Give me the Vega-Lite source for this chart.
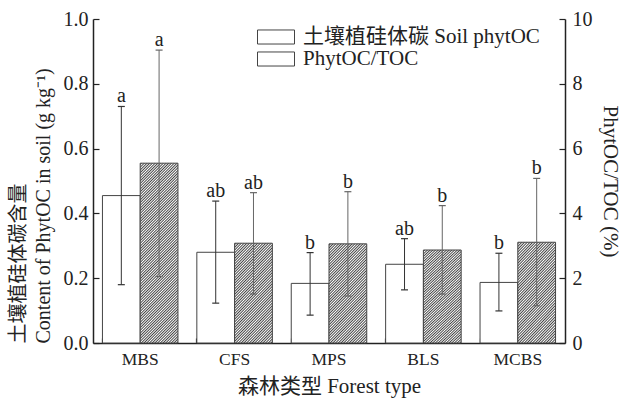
{
  "$schema": "https://vega.github.io/schema/vega-lite/v6.json",
  "width": 472,
  "height": 324,
  "autosize": {"type": "none"},
  "padding": {"left": 93, "top": 19, "right": 57, "bottom": 61},
  "config": {
    "view": {"stroke": null},
    "font": "Liberation Serif, Noto Sans CJK SC",
    "text": {"font": "Liberation Serif, Noto Sans CJK SC"}
  },
  "data": {
    "values": [
      {"forest": "MBS", "key": "soil", "series": "土壤植硅体碳 Soil phytOC", "value": 0.455, "lo": 0.18, "hi": 0.73, "letter": "a"},
      {"forest": "CFS", "key": "soil", "series": "土壤植硅体碳 Soil phytOC", "value": 0.28, "lo": 0.123, "hi": 0.438, "letter": "ab"},
      {"forest": "MPS", "key": "soil", "series": "土壤植硅体碳 Soil phytOC", "value": 0.184, "lo": 0.086, "hi": 0.279, "letter": "b"},
      {"forest": "BLS", "key": "soil", "series": "土壤植硅体碳 Soil phytOC", "value": 0.243, "lo": 0.164, "hi": 0.322, "letter": "ab"},
      {"forest": "MCBS", "key": "soil", "series": "土壤植硅体碳 Soil phytOC", "value": 0.187, "lo": 0.099, "hi": 0.277, "letter": "b"},
      {"forest": "MBS", "key": "ratio", "series": "PhytOC/TOC", "value": 5.55, "lo": 2.05, "hi": 9.04, "letter": "a"},
      {"forest": "CFS", "key": "ratio", "series": "PhytOC/TOC", "value": 3.08, "lo": 1.51, "hi": 4.64, "letter": "ab"},
      {"forest": "MPS", "key": "ratio", "series": "PhytOC/TOC", "value": 3.06, "lo": 1.45, "hi": 4.67, "letter": "b"},
      {"forest": "BLS", "key": "ratio", "series": "PhytOC/TOC", "value": 2.87, "lo": 1.51, "hi": 4.24, "letter": "b"},
      {"forest": "MCBS", "key": "ratio", "series": "PhytOC/TOC", "value": 3.11, "lo": 1.15, "hi": 5.08, "letter": "b"}
    ]
  },
  "encoding": {
    "x": {
      "field": "forest", "type": "nominal",
      "sort": ["MBS", "CFS", "MPS", "BLS", "MCBS"],
      "scale": {"paddingInner": 0.2, "paddingOuter": 0.1},
      "axis": {
        "title": "森林类型 Forest type", "labelAngle": 0, "bandPosition": 0,
        "tickSize": -5, "labelPadding": 12, "domainColor": "#222", "domainWidth": 1.5,
        "tickColor": "#222", "tickWidth": 1.2, "labelFontSize": 17.5, "titleFontSize": 21,
        "titlePadding": 8, "labelColor": "#222", "titleColor": "#222", "titleFontWeight": "normal", "grid": false
      }
    },
    "xOffset": {
      "field": "series", "type": "nominal",
      "scale": {"domain": ["土壤植硅体碳 Soil phytOC", "PhytOC/TOC"], "paddingInner": 0, "paddingOuter": 0}
    }
  },
  "layer": [
    {
      "transform": [{"filter": "datum.key === 'soil'"}],
      "layer": [
        {
          "mark": {"type": "bar", "fill": "#fff", "strokeWidth": 1},
          "encoding": {
            "y": {
              "field": "value", "type": "quantitative",
              "scale": {"domain": [0, 1], "nice": false},
              "axis": {
                "title": ["土壤植硅体碳含量", "Content of PhytOC in soil (g kg⁻¹)"],
                "values": [0, 0.1, 0.2, 0.3, 0.4, 0.5, 0.6, 0.7, 0.8, 0.9, 1],
                "labelExpr": "round(datum.value*10) % 2 === 0 ? format(datum.value, '.1f') : ''",
                "tickSize": -6, "labelPadding": 11, "grid": false,
                "domainColor": "#222", "domainWidth": 1.5, "tickColor": "#222", "tickWidth": 1.2,
                "labelFontSize": 20, "titleFontSize": 20, "titleFontWeight": "normal",
                "titleAnchor": "start", "titlePadding": 10, "titleLineHeight": 25,
                "labelColor": "#222", "titleColor": "#222"
              }
            },
            "stroke": {
              "field": "series", "type": "nominal",
              "scale": {"domain": ["土壤植硅体碳 Soil phytOC", "PhytOC/TOC"], "range": ["#444", "#444"]},
              "legend": {
                "orient": "none", "legendX": 164, "legendY": 7, "title": null,
                "symbolType": "M-1,-0.38H1V0.38H-1Z", "symbolSize": 1369, "symbolStrokeWidth": 1,
                "labelFontSize": 21, "labelFont": "Liberation Serif, Noto Sans CJK SC", "labelOffset": 8, "labelLimit": 400,
                "rowPadding": 0, "clipHeight": 22, "labelColor": "#222",
                "encode": {
                  "symbols": {
                    "fill": {
                      "condition": {"test": "datum.index === 1 || datum.value === 'PhytOC/TOC' || datum.label === 'PhytOC/TOC'", "value": {"gradient": "linear", "x1": 0, "y1": 0, "x2": 1.206, "y2": 0.456, "stops": [
                        {"offset": 0, "color": "#fff"}, {"offset": 0.025, "color": "#444"}, {"offset": 0.05, "color": "#fff"}, {"offset": 0.075, "color": "#444"},
                        {"offset": 0.1, "color": "#fff"}, {"offset": 0.125, "color": "#444"}, {"offset": 0.15, "color": "#fff"}, {"offset": 0.175, "color": "#444"},
                        {"offset": 0.2, "color": "#fff"}, {"offset": 0.225, "color": "#444"}, {"offset": 0.25, "color": "#fff"}, {"offset": 0.275, "color": "#444"},
                        {"offset": 0.3, "color": "#fff"}, {"offset": 0.325, "color": "#444"}, {"offset": 0.35, "color": "#fff"}, {"offset": 0.375, "color": "#444"},
                        {"offset": 0.4, "color": "#fff"}, {"offset": 0.425, "color": "#444"}, {"offset": 0.45, "color": "#fff"}, {"offset": 0.475, "color": "#444"},
                        {"offset": 0.5, "color": "#fff"}, {"offset": 0.525, "color": "#444"}, {"offset": 0.55, "color": "#fff"}, {"offset": 0.575, "color": "#444"},
                        {"offset": 0.6, "color": "#fff"}, {"offset": 0.625, "color": "#444"}, {"offset": 0.65, "color": "#fff"}, {"offset": 0.675, "color": "#444"},
                        {"offset": 0.7, "color": "#fff"}, {"offset": 0.725, "color": "#444"}, {"offset": 0.75, "color": "#fff"}, {"offset": 0.775, "color": "#444"},
                        {"offset": 0.8, "color": "#fff"}, {"offset": 0.825, "color": "#444"}, {"offset": 0.85, "color": "#fff"}, {"offset": 0.875, "color": "#444"},
                        {"offset": 0.9, "color": "#fff"}, {"offset": 0.925, "color": "#444"}, {"offset": 0.95, "color": "#fff"}, {"offset": 0.975, "color": "#444"},
                        {"offset": 1, "color": "#fff"}
                      ]}},
                      "value": "#fff"
                    }
                  }
                }
              }
            }
          }
        },
        {
          "mark": {"type": "rule", "color": "#333", "strokeWidth": 1},
          "encoding": {
            "y": {"field": "lo", "type": "quantitative", "scale": {"domain": [0, 1], "nice": false}},
            "y2": {"field": "hi"}
          }
        },
        {
          "mark": {"type": "point", "shape": "stroke", "size": 49, "filled": false, "color": "#333", "strokeWidth": 1.2, "opacity": 1},
          "encoding": {"y": {"field": "lo", "type": "quantitative", "scale": {"domain": [0, 1], "nice": false}}}
        },
        {
          "mark": {"type": "point", "shape": "stroke", "size": 49, "filled": false, "color": "#333", "strokeWidth": 1.2, "opacity": 1},
          "encoding": {"y": {"field": "hi", "type": "quantitative", "scale": {"domain": [0, 1], "nice": false}}}
        },
        {
          "mark": {"type": "text", "dy": -4, "baseline": "alphabetic", "fontSize": 20, "color": "#222", "font": "Liberation Serif"},
          "encoding": {
            "y": {"field": "hi", "type": "quantitative", "scale": {"domain": [0, 1], "nice": false}},
            "text": {"field": "letter"}
          }
        }
      ]
    },
    {
      "transform": [{"filter": "datum.key === 'ratio'"}],
      "layer": [
        {
          "mark": {"type": "bar", "strokeWidth": 1},
          "encoding": {
            "y": {
              "field": "value", "type": "quantitative",
              "scale": {"domain": [0, 10], "nice": false},
              "axis": {
                "orient": "right", "title": "PhytOC/TOC (%)",
                "values": [0, 1, 2, 3, 4, 5, 6, 7, 8, 9, 10],
                "labelExpr": "datum.value % 2 === 0 ? format(datum.value, 'd') : ''",
                "tickSize": -6, "labelPadding": 13, "grid": false,
                "domainColor": "#222", "domainWidth": 1.5, "tickColor": "#222", "tickWidth": 1.2,
                "labelFontSize": 20, "titleFontSize": 21, "titleFontWeight": "normal",
                "titlePadding": 7, "labelColor": "#222", "titleColor": "#222"
              }
            },
            "stroke": {
              "field": "series", "type": "nominal",
              "scale": {"domain": ["土壤植硅体碳 Soil phytOC", "PhytOC/TOC"], "range": ["#444", "#444"]}
            },
            "fill": {
              "condition": {
                "test": "datum.forest === 'MBS'",
                "value": {"gradient": "linear", "x1": 0, "y1": 0, "x2": 0.243, "y2": 1.159, "stops": [
                  {"offset": 0, "color": "#fff"}, {"offset": 0.00625, "color": "#444"}, {"offset": 0.0125, "color": "#fff"}, {"offset": 0.01875, "color": "#444"}, {"offset": 0.025, "color": "#fff"}, {"offset": 0.03125, "color": "#444"}, {"offset": 0.0375, "color": "#fff"}, {"offset": 0.04375, "color": "#444"},
                  {"offset": 0.05, "color": "#fff"}, {"offset": 0.05625, "color": "#444"}, {"offset": 0.0625, "color": "#fff"}, {"offset": 0.06875, "color": "#444"}, {"offset": 0.075, "color": "#fff"}, {"offset": 0.08125, "color": "#444"}, {"offset": 0.0875, "color": "#fff"}, {"offset": 0.09375, "color": "#444"},
                  {"offset": 0.1, "color": "#fff"}, {"offset": 0.10625, "color": "#444"}, {"offset": 0.1125, "color": "#fff"}, {"offset": 0.11875, "color": "#444"}, {"offset": 0.125, "color": "#fff"}, {"offset": 0.13125, "color": "#444"}, {"offset": 0.1375, "color": "#fff"}, {"offset": 0.14375, "color": "#444"},
                  {"offset": 0.15, "color": "#fff"}, {"offset": 0.15625, "color": "#444"}, {"offset": 0.1625, "color": "#fff"}, {"offset": 0.16875, "color": "#444"}, {"offset": 0.175, "color": "#fff"}, {"offset": 0.18125, "color": "#444"}, {"offset": 0.1875, "color": "#fff"}, {"offset": 0.19375, "color": "#444"},
                  {"offset": 0.2, "color": "#fff"}, {"offset": 0.20625, "color": "#444"}, {"offset": 0.2125, "color": "#fff"}, {"offset": 0.21875, "color": "#444"}, {"offset": 0.225, "color": "#fff"}, {"offset": 0.23125, "color": "#444"}, {"offset": 0.2375, "color": "#fff"}, {"offset": 0.24375, "color": "#444"},
                  {"offset": 0.25, "color": "#fff"}, {"offset": 0.25625, "color": "#444"}, {"offset": 0.2625, "color": "#fff"}, {"offset": 0.26875, "color": "#444"}, {"offset": 0.275, "color": "#fff"}, {"offset": 0.28125, "color": "#444"}, {"offset": 0.2875, "color": "#fff"}, {"offset": 0.29375, "color": "#444"},
                  {"offset": 0.3, "color": "#fff"}, {"offset": 0.30625, "color": "#444"}, {"offset": 0.3125, "color": "#fff"}, {"offset": 0.31875, "color": "#444"}, {"offset": 0.325, "color": "#fff"}, {"offset": 0.33125, "color": "#444"}, {"offset": 0.3375, "color": "#fff"}, {"offset": 0.34375, "color": "#444"},
                  {"offset": 0.35, "color": "#fff"}, {"offset": 0.35625, "color": "#444"}, {"offset": 0.3625, "color": "#fff"}, {"offset": 0.36875, "color": "#444"}, {"offset": 0.375, "color": "#fff"}, {"offset": 0.38125, "color": "#444"}, {"offset": 0.3875, "color": "#fff"}, {"offset": 0.39375, "color": "#444"},
                  {"offset": 0.4, "color": "#fff"}, {"offset": 0.40625, "color": "#444"}, {"offset": 0.4125, "color": "#fff"}, {"offset": 0.41875, "color": "#444"}, {"offset": 0.425, "color": "#fff"}, {"offset": 0.43125, "color": "#444"}, {"offset": 0.4375, "color": "#fff"}, {"offset": 0.44375, "color": "#444"},
                  {"offset": 0.45, "color": "#fff"}, {"offset": 0.45625, "color": "#444"}, {"offset": 0.4625, "color": "#fff"}, {"offset": 0.46875, "color": "#444"}, {"offset": 0.475, "color": "#fff"}, {"offset": 0.48125, "color": "#444"}, {"offset": 0.4875, "color": "#fff"}, {"offset": 0.49375, "color": "#444"},
                  {"offset": 0.5, "color": "#fff"}, {"offset": 0.50625, "color": "#444"}, {"offset": 0.5125, "color": "#fff"}, {"offset": 0.51875, "color": "#444"}, {"offset": 0.525, "color": "#fff"}, {"offset": 0.53125, "color": "#444"}, {"offset": 0.5375, "color": "#fff"}, {"offset": 0.54375, "color": "#444"},
                  {"offset": 0.55, "color": "#fff"}, {"offset": 0.55625, "color": "#444"}, {"offset": 0.5625, "color": "#fff"}, {"offset": 0.56875, "color": "#444"}, {"offset": 0.575, "color": "#fff"}, {"offset": 0.58125, "color": "#444"}, {"offset": 0.5875, "color": "#fff"}, {"offset": 0.59375, "color": "#444"},
                  {"offset": 0.6, "color": "#fff"}, {"offset": 0.60625, "color": "#444"}, {"offset": 0.6125, "color": "#fff"}, {"offset": 0.61875, "color": "#444"}, {"offset": 0.625, "color": "#fff"}, {"offset": 0.63125, "color": "#444"}, {"offset": 0.6375, "color": "#fff"}, {"offset": 0.64375, "color": "#444"},
                  {"offset": 0.65, "color": "#fff"}, {"offset": 0.65625, "color": "#444"}, {"offset": 0.6625, "color": "#fff"}, {"offset": 0.66875, "color": "#444"}, {"offset": 0.675, "color": "#fff"}, {"offset": 0.68125, "color": "#444"}, {"offset": 0.6875, "color": "#fff"}, {"offset": 0.69375, "color": "#444"},
                  {"offset": 0.7, "color": "#fff"}, {"offset": 0.70625, "color": "#444"}, {"offset": 0.7125, "color": "#fff"}, {"offset": 0.71875, "color": "#444"}, {"offset": 0.725, "color": "#fff"}, {"offset": 0.73125, "color": "#444"}, {"offset": 0.7375, "color": "#fff"}, {"offset": 0.74375, "color": "#444"},
                  {"offset": 0.75, "color": "#fff"}, {"offset": 0.75625, "color": "#444"}, {"offset": 0.7625, "color": "#fff"}, {"offset": 0.76875, "color": "#444"}, {"offset": 0.775, "color": "#fff"}, {"offset": 0.78125, "color": "#444"}, {"offset": 0.7875, "color": "#fff"}, {"offset": 0.79375, "color": "#444"},
                  {"offset": 0.8, "color": "#fff"}, {"offset": 0.80625, "color": "#444"}, {"offset": 0.8125, "color": "#fff"}, {"offset": 0.81875, "color": "#444"}, {"offset": 0.825, "color": "#fff"}, {"offset": 0.83125, "color": "#444"}, {"offset": 0.8375, "color": "#fff"}, {"offset": 0.84375, "color": "#444"},
                  {"offset": 0.85, "color": "#fff"}, {"offset": 0.85625, "color": "#444"}, {"offset": 0.8625, "color": "#fff"}, {"offset": 0.86875, "color": "#444"}, {"offset": 0.875, "color": "#fff"}, {"offset": 0.88125, "color": "#444"}, {"offset": 0.8875, "color": "#fff"}, {"offset": 0.89375, "color": "#444"},
                  {"offset": 0.9, "color": "#fff"}, {"offset": 0.90625, "color": "#444"}, {"offset": 0.9125, "color": "#fff"}, {"offset": 0.91875, "color": "#444"}, {"offset": 0.925, "color": "#fff"}, {"offset": 0.93125, "color": "#444"}, {"offset": 0.9375, "color": "#fff"}, {"offset": 0.94375, "color": "#444"},
                  {"offset": 0.95, "color": "#fff"}, {"offset": 0.95625, "color": "#444"}, {"offset": 0.9625, "color": "#fff"}, {"offset": 0.96875, "color": "#444"}, {"offset": 0.975, "color": "#fff"}, {"offset": 0.98125, "color": "#444"}, {"offset": 0.9875, "color": "#fff"}, {"offset": 0.99375, "color": "#444"},
                  {"offset": 1, "color": "#fff"}
                ]}
              },
              "value": {"gradient": "linear", "x1": 0, "y1": 0, "x2": 0.4647, "y2": 1.2064, "stops": [
                {"offset": 0, "color": "#fff"}, {"offset": 0.01, "color": "#444"}, {"offset": 0.02, "color": "#fff"}, {"offset": 0.03, "color": "#444"}, {"offset": 0.04, "color": "#fff"}, {"offset": 0.05, "color": "#444"}, {"offset": 0.06, "color": "#fff"}, {"offset": 0.07, "color": "#444"}, {"offset": 0.08, "color": "#fff"}, {"offset": 0.09, "color": "#444"},
                {"offset": 0.1, "color": "#fff"}, {"offset": 0.11, "color": "#444"}, {"offset": 0.12, "color": "#fff"}, {"offset": 0.13, "color": "#444"}, {"offset": 0.14, "color": "#fff"}, {"offset": 0.15, "color": "#444"}, {"offset": 0.16, "color": "#fff"}, {"offset": 0.17, "color": "#444"}, {"offset": 0.18, "color": "#fff"}, {"offset": 0.19, "color": "#444"},
                {"offset": 0.2, "color": "#fff"}, {"offset": 0.21, "color": "#444"}, {"offset": 0.22, "color": "#fff"}, {"offset": 0.23, "color": "#444"}, {"offset": 0.24, "color": "#fff"}, {"offset": 0.25, "color": "#444"}, {"offset": 0.26, "color": "#fff"}, {"offset": 0.27, "color": "#444"}, {"offset": 0.28, "color": "#fff"}, {"offset": 0.29, "color": "#444"},
                {"offset": 0.3, "color": "#fff"}, {"offset": 0.31, "color": "#444"}, {"offset": 0.32, "color": "#fff"}, {"offset": 0.33, "color": "#444"}, {"offset": 0.34, "color": "#fff"}, {"offset": 0.35, "color": "#444"}, {"offset": 0.36, "color": "#fff"}, {"offset": 0.37, "color": "#444"}, {"offset": 0.38, "color": "#fff"}, {"offset": 0.39, "color": "#444"},
                {"offset": 0.4, "color": "#fff"}, {"offset": 0.41, "color": "#444"}, {"offset": 0.42, "color": "#fff"}, {"offset": 0.43, "color": "#444"}, {"offset": 0.44, "color": "#fff"}, {"offset": 0.45, "color": "#444"}, {"offset": 0.46, "color": "#fff"}, {"offset": 0.47, "color": "#444"}, {"offset": 0.48, "color": "#fff"}, {"offset": 0.49, "color": "#444"},
                {"offset": 0.5, "color": "#fff"}, {"offset": 0.51, "color": "#444"}, {"offset": 0.52, "color": "#fff"}, {"offset": 0.53, "color": "#444"}, {"offset": 0.54, "color": "#fff"}, {"offset": 0.55, "color": "#444"}, {"offset": 0.56, "color": "#fff"}, {"offset": 0.57, "color": "#444"}, {"offset": 0.58, "color": "#fff"}, {"offset": 0.59, "color": "#444"},
                {"offset": 0.6, "color": "#fff"}, {"offset": 0.61, "color": "#444"}, {"offset": 0.62, "color": "#fff"}, {"offset": 0.63, "color": "#444"}, {"offset": 0.64, "color": "#fff"}, {"offset": 0.65, "color": "#444"}, {"offset": 0.66, "color": "#fff"}, {"offset": 0.67, "color": "#444"}, {"offset": 0.68, "color": "#fff"}, {"offset": 0.69, "color": "#444"},
                {"offset": 0.7, "color": "#fff"}, {"offset": 0.71, "color": "#444"}, {"offset": 0.72, "color": "#fff"}, {"offset": 0.73, "color": "#444"}, {"offset": 0.74, "color": "#fff"}, {"offset": 0.75, "color": "#444"}, {"offset": 0.76, "color": "#fff"}, {"offset": 0.77, "color": "#444"}, {"offset": 0.78, "color": "#fff"}, {"offset": 0.79, "color": "#444"},
                {"offset": 0.8, "color": "#fff"}, {"offset": 0.81, "color": "#444"}, {"offset": 0.82, "color": "#fff"}, {"offset": 0.83, "color": "#444"}, {"offset": 0.84, "color": "#fff"}, {"offset": 0.85, "color": "#444"}, {"offset": 0.86, "color": "#fff"}, {"offset": 0.87, "color": "#444"}, {"offset": 0.88, "color": "#fff"}, {"offset": 0.89, "color": "#444"},
                {"offset": 0.9, "color": "#fff"}, {"offset": 0.91, "color": "#444"}, {"offset": 0.92, "color": "#fff"}, {"offset": 0.93, "color": "#444"}, {"offset": 0.94, "color": "#fff"}, {"offset": 0.95, "color": "#444"}, {"offset": 0.96, "color": "#fff"}, {"offset": 0.97, "color": "#444"}, {"offset": 0.98, "color": "#fff"}, {"offset": 0.99, "color": "#444"},
                {"offset": 1, "color": "#fff"}
              ]}
            }
          }
        },
        {
          "mark": {"type": "rule", "color": "#666", "strokeWidth": 1},
          "encoding": {
            "y": {"field": "lo", "type": "quantitative", "scale": {"domain": [0, 10], "nice": false}},
            "y2": {"field": "hi"}
          }
        },
        {
          "mark": {"type": "point", "shape": "stroke", "size": 49, "filled": false, "color": "#666", "strokeWidth": 1.2, "opacity": 1},
          "encoding": {"y": {"field": "lo", "type": "quantitative", "scale": {"domain": [0, 10], "nice": false}}}
        },
        {
          "mark": {"type": "point", "shape": "stroke", "size": 49, "filled": false, "color": "#666", "strokeWidth": 1.2, "opacity": 1},
          "encoding": {"y": {"field": "hi", "type": "quantitative", "scale": {"domain": [0, 10], "nice": false}}}
        },
        {
          "mark": {"type": "text", "dy": -4, "baseline": "alphabetic", "fontSize": 20, "color": "#222", "font": "Liberation Serif"},
          "encoding": {
            "y": {"field": "hi", "type": "quantitative", "scale": {"domain": [0, 10], "nice": false}},
            "text": {"field": "letter"}
          }
        }
      ]
    }
  ],
  "resolve": {"scale": {"y": "independent"}}
}
